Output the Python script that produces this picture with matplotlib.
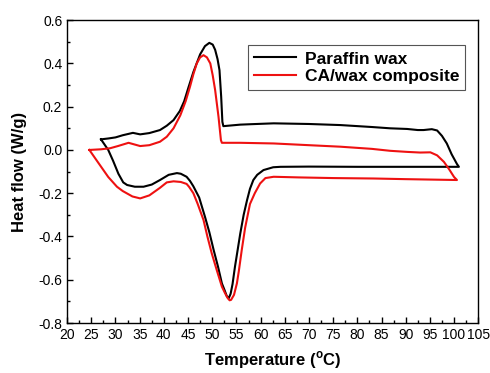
import matplotlib
matplotlib.use('Agg')
import matplotlib.pyplot as plt
from matplotlib.ticker import MultipleLocator

plt.rcParams['font.family'] = ['Liberation Sans', 'DejaVu Sans']
plt.rcParams['mathtext.fontset'] = 'custom'
plt.rcParams['mathtext.rm'] = 'Liberation Sans:bold'

# paraffin wax: upper branch left->right, then lower branch back right->left
wax_T = [27.0, 28.5, 30.0, 31.5, 33.6, 35.1, 37.0, 39.2, 40.6, 42.0, 43.3, 44.2,
         45.1, 46.1, 47.5, 48.5, 49.4, 50.1, 50.6, 51.1, 51.5, 51.85, 52.1, 52.3,
         55.8, 58.0, 62.7, 70.0, 76.5, 83.0, 86.8, 90.3, 92.5, 93.7, 95.4,
         96.5, 97.5, 98.5, 99.5, 100.6, 101.0,
         90.0, 80.0, 70.0, 64.1, 62.6, 60.6, 59.3, 58.5, 57.8, 57.2, 56.5, 55.8,
         55.2, 54.7, 54.2, 53.8, 53.4, 53.0, 52.5, 52.0, 51.2, 50.3, 49.4, 48.5,
         47.3, 46.1, 45.4, 44.7, 43.5, 42.7, 41.0, 39.2, 37.5, 35.8, 34.0, 32.4,
         31.6, 30.6, 29.5, 28.5, 27.0]
wax_H = [0.049, 0.053, 0.058, 0.068, 0.079, 0.072, 0.078, 0.092, 0.112, 0.138, 0.180, 0.225,
         0.290, 0.360, 0.442, 0.480, 0.495, 0.487, 0.463, 0.420, 0.369, 0.246, 0.130, 0.110,
         0.117, 0.119, 0.123, 0.120, 0.115, 0.106, 0.100, 0.097, 0.092, 0.092, 0.096,
         0.090, 0.065, 0.030, -0.020, -0.065, -0.078,
         -0.078, -0.078, -0.077, -0.078, -0.080, -0.093, -0.115, -0.139, -0.180, -0.232, -0.300, -0.386,
         -0.470, -0.540, -0.620, -0.665, -0.686, -0.675, -0.645, -0.617, -0.540, -0.463, -0.380, -0.309,
         -0.220, -0.168, -0.143, -0.124, -0.110, -0.107, -0.115, -0.139, -0.160, -0.170, -0.170, -0.162,
         -0.150, -0.110, -0.050, 0.000, 0.049]

# CA/wax composite
comp_T = [24.6, 27.0, 28.9, 30.5, 32.7, 35.1, 37.0, 39.2, 40.6, 42.0, 43.4, 44.5,
          45.4, 46.1, 46.8, 47.5, 48.2, 48.9, 49.6, 50.1, 50.6, 51.3, 51.8, 52.0,
          55.8, 62.7, 70.0, 76.5, 83.0, 86.8, 90.3, 93.0, 95.1, 96.5, 97.9,
          99.0, 100.0, 100.6,
          90.0, 83.4, 75.0, 68.0, 62.7, 61.0, 59.9, 58.8, 57.8, 56.8, 56.1, 55.5,
          55.1, 54.5, 53.9, 53.6, 53.2, 52.6, 52.0, 51.0, 49.9, 49.0, 48.2, 47.0,
          46.1, 45.2, 44.7, 43.5, 42.0, 40.6, 39.2, 37.0, 35.1, 33.5, 31.5, 30.3,
          28.5, 27.5, 26.0, 24.6]
comp_H = [0.000, 0.003, 0.008, 0.018, 0.033, 0.018, 0.022, 0.038, 0.061, 0.100, 0.160, 0.225,
          0.292, 0.350, 0.400, 0.428, 0.438, 0.428, 0.400, 0.345, 0.277, 0.153, 0.045, 0.033,
          0.033, 0.030, 0.022, 0.015, 0.005, -0.004, -0.009, -0.012, -0.011, -0.025, -0.055,
          -0.090, -0.125, -0.139,
          -0.135, -0.132, -0.130, -0.127, -0.124, -0.130, -0.155, -0.200, -0.250, -0.360, -0.463, -0.560,
          -0.617, -0.670, -0.693, -0.695, -0.685, -0.660, -0.632, -0.560, -0.478, -0.400, -0.324, -0.250,
          -0.200, -0.170, -0.157, -0.148, -0.145, -0.150, -0.175, -0.210, -0.224, -0.215, -0.190, -0.170,
          -0.125, -0.093, -0.045, 0.000]

fig = plt.figure(figsize=(4.9, 3.73), dpi=100)
ax = fig.add_axes([0.137, 0.134, 0.839, 0.812])

ax.plot(wax_T, wax_H, color='black', lw=1.5, label='Paraffin wax')
ax.plot(comp_T, comp_H, color='#ee1111', lw=1.5, label='CA/wax composite')

ax.set_xlim(20, 105)
ax.set_ylim(-0.8, 0.6)
ax.xaxis.set_major_locator(MultipleLocator(5))
ax.xaxis.set_minor_locator(MultipleLocator(2.5))
ax.yaxis.set_major_locator(MultipleLocator(0.2))
ax.yaxis.set_minor_locator(MultipleLocator(0.1))
ax.yaxis.set_major_formatter(plt.FuncFormatter(lambda v, p: f'{v:.1f}'))
ax.tick_params(which='both', direction='in', top=False, right=False, labelsize=10)
ax.tick_params(which='major', length=4.5, width=1)
ax.tick_params(which='minor', length=2.5, width=1)
for s in ax.spines.values():
    s.set_linewidth(1.0)

ax.set_xlabel(r'Temperature ($^\mathrm{o}$C)', fontsize=12, fontweight='bold', labelpad=5)
ax.set_ylabel('Heat flow (W/g)', fontsize=12, fontweight='bold', labelpad=8)

leg = ax.legend(loc='upper right', bbox_to_anchor=(0.968, 0.917), borderaxespad=0,
                fancybox=False, edgecolor='#555555', framealpha=1, handlelength=2.4,
                handletextpad=0.5, borderpad=0.35, labelspacing=0.15,
                prop={'weight': 'bold', 'size': 12.5})
leg.get_frame().set_linewidth(0.8)

fig.savefig('out.png', dpi=100)
